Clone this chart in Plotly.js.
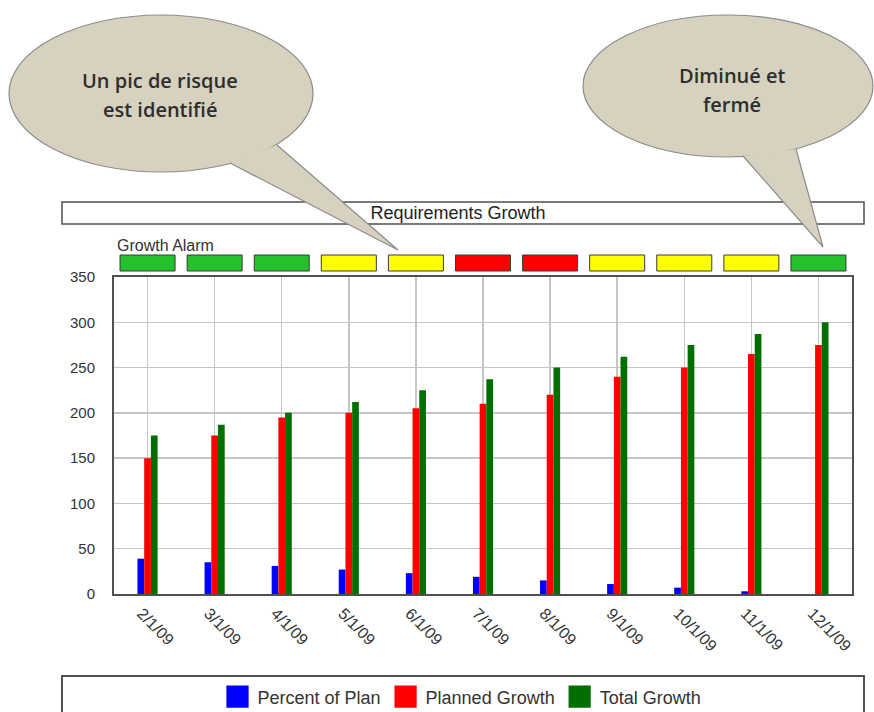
<!DOCTYPE html>
<html>
<head>
<meta charset="utf-8">
<script src="https://cdn.plot.ly/plotly-3.0.1.min.js"></script>
<style>html,body{margin:0;padding:0;background:#fff;}#chart{width:874px;height:712px;}</style>
</head>
<body>
<div id="chart"></div>
<script>
// ---- data ----
const categories = ['2/1/09','3/1/09','4/1/09','5/1/09','6/1/09','7/1/09','8/1/09','9/1/09','10/1/09','11/1/09','12/1/09'];
const percentOfPlan = [39, 35, 31, 27, 23, 19, 15, 11, 7, 3, 0];
const plannedGrowth = [150, 175, 195, 200, 205, 210, 220, 240, 250, 265, 275];
const totalGrowth = [175, 187, 200, 212, 225, 237, 250, 262, 275, 287, 300];
const growthAlarm = ['green','green','green','yellow','yellow','red','red','yellow','yellow','yellow','green'];
const seriesNames = ['Percent of Plan', 'Planned Growth', 'Total Growth'];
const chartTitle = 'Requirements Growth';
const alarmLabel = 'Growth Alarm';
const calloutLeft = ['Un pic de risque', 'est identifié'];
const calloutRight = ['Diminué et', 'fermé'];

// ---- styles / geometry ----
const W = 874, H = 712, M = {l:114, r:22, t:277, b:118};
const PW = W - M.l - M.r, PH = H - M.t - M.b;
const px = v => (v - M.l) / PW;
const py = v => (H - M.b - v) / PH;
const FONT = 'Liberation Sans, Arial, sans-serif';
const TXT = '#333333';
const alarmColors = {green:'#25c12c', yellow:'#ffff00', red:'#ff0000'};
const bubbleFill = '#d6d2bf', bubbleLine = '#8c8c8c';
const CALLOUT_FONT = {family:'Open Sans, sans-serif', size:20, color:'#2e2e2e', weight:600};

const traces = [
  {type:'bar', name:seriesNames[0], x:categories, y:percentOfPlan, marker:{color:'#0000ff', line:{width:0}}},
  {type:'bar', name:seriesNames[1], x:categories, y:plannedGrowth, marker:{color:'#ff0000', line:{width:0}}},
  {type:'bar', name:seriesNames[2], x:categories, y:totalGrowth, marker:{color:'#006f00', line:{width:0}}}
];

const shapes = [];
// title box
shapes.push({type:'rect', xref:'paper', yref:'paper', x0:px(62), x1:px(864), y0:py(224), y1:py(202),
  line:{color:'#505050', width:1.5}, fillcolor:'#ffffff', layer:'below'});
// legend box
shapes.push({type:'rect', xref:'paper', yref:'paper', x0:px(62), x1:px(864), y0:py(740), y1:py(676),
  line:{color:'#505050', width:2}, fillcolor:'rgba(0,0,0,0)', layer:'below'});
// alarm boxes, one per category, positioned on the category axis
growthAlarm.forEach((a, i) => {
  shapes.push({type:'rect', xref:'x', yref:'paper', x0:i - 0.41, x1:i + 0.41, y0:py(271), y1:py(255),
    line:{color:'#3a3a3a', width:1}, fillcolor:alarmColors[a]});
});
// callout bubbles
function bubble(cx, cy, rx, ry, b1, tip, b2) {
  shapes.push({type:'circle', xref:'paper', yref:'paper', x0:px(cx - rx), x1:px(cx + rx), y0:py(cy + ry), y1:py(cy - ry),
    line:{color:bubbleLine, width:1.2}, fillcolor:bubbleFill, layer:'above'});
  shapes.push({type:'path', xref:'paper', yref:'paper',
    path:`M${px(b1[0])},${py(b1[1])} L${px(tip[0])},${py(tip[1])} L${px(b2[0])},${py(b2[1])}`,
    line:{color:bubbleLine, width:1.2}, fillcolor:bubbleFill, layer:'above'});
}
bubble(161, 93.5, 152, 78.5, [230,163], [398,250], [277,145]);
bubble(728, 86, 145, 71, [743,156], [823,247], [796,149]);

const annotations = [
  {xref:'paper', yref:'paper', x:px(115), y:py(245), xanchor:'left', yanchor:'middle', showarrow:false,
   text:alarmLabel, font:{family:FONT, size:16, color:TXT}},
  {xref:'paper', yref:'paper', x:px(160), y:py(80), xanchor:'center', yanchor:'middle', showarrow:false,
   text:calloutLeft[0], font:CALLOUT_FONT},
  {xref:'paper', yref:'paper', x:px(160), y:py(110), xanchor:'center', yanchor:'middle', showarrow:false,
   text:calloutLeft[1], font:CALLOUT_FONT},
  {xref:'paper', yref:'paper', x:px(732), y:py(75), xanchor:'center', yanchor:'middle', showarrow:false,
   text:calloutRight[0], font:CALLOUT_FONT},
  {xref:'paper', yref:'paper', x:px(732), y:py(104), xanchor:'center', yanchor:'middle', showarrow:false,
   text:calloutRight[1], font:CALLOUT_FONT}
];

const layout = {
  width:W, height:H,
  margin:{l:M.l, r:M.r, t:M.t, b:M.b, autoexpand:false},
  paper_bgcolor:'#ffffff', plot_bgcolor:'#ffffff',
  font:{family:FONT, color:TXT},
  title:{text:chartTitle, x:458/W, xanchor:'center', xref:'container', y:1 - 213/H, yanchor:'middle', yref:'container',
    font:{family:FONT, size:18, color:'#222'}},
  barmode:'group', bargap:0.7, bargroupgap:0,
  xaxis:{type:'category', showgrid:true, gridcolor:'#c6c6c6', gridwidth:1.5,
    showline:true, mirror:true, linecolor:'#505050', linewidth:2,
    tickangle:45, tickfont:{family:FONT, size:16, color:TXT}, ticks:'', ticklabelstandoff:2, ticklabelshift:-6},
  yaxis:{range:[0,350], dtick:50, showgrid:true, gridcolor:'#c6c6c6', gridwidth:1.5, zeroline:false,
    showline:true, mirror:true, linecolor:'#505050', linewidth:2,
    tickfont:{family:FONT, size:15, color:TXT}, ticks:'', ticklabelstandoff:14},
  showlegend:true,
  legend:{orientation:'h', x:px(462), xanchor:'center', y:py(697), yanchor:'middle',
    font:{family:FONT, size:18, color:TXT}, bgcolor:'rgba(0,0,0,0)', borderwidth:0},
  shapes:shapes,
  annotations:annotations
};

Plotly.newPlot('chart', traces, layout, {displayModeBar:false, staticPlot:true}).then(gd => {
  gd.querySelectorAll('.legendpoints path').forEach(p => {
    p.setAttribute('transform', 'translate(20,0) scale(1.85)');
  });
});
</script>
</body>
</html>
